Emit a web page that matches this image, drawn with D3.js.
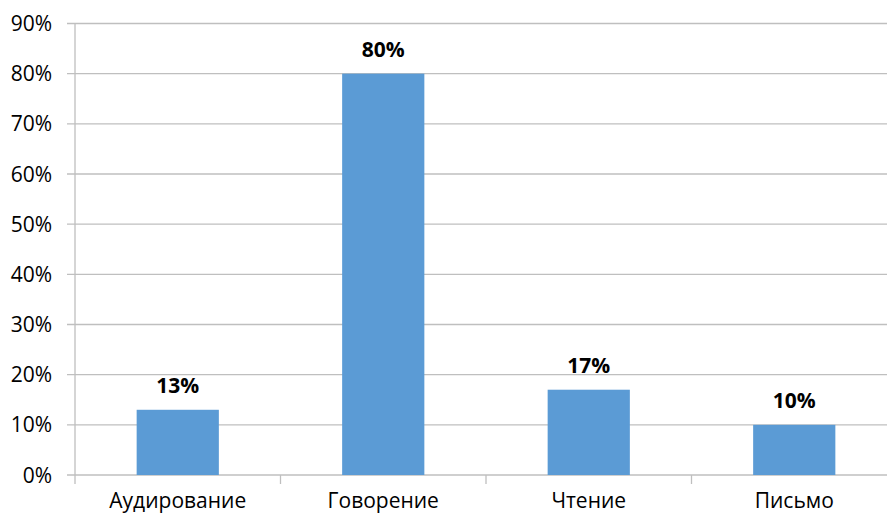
<!DOCTYPE html>
<html><head><meta charset="utf-8">
<script src="https://cdn.jsdelivr.net/npm/d3@7"></script>
<style>body{margin:0;background:#fff;} svg{display:block;}</style>
</head><body>
<svg id="c" width="887" height="515"></svg>
<script>
const categories = ["Аудирование", "Говорение", "Чтение", "Письмо"];
const values = [13, 80, 17, 10];
const yTicks = [0, 10, 20, 30, 40, 50, 60, 70, 80, 90];

(function () {
const svg = d3.select("#c");
const font = "'Open Sans', sans-serif";
const pLeft = 75, pRight = 897, pTop = 23.5, pBottom = 475;

const x = d3.scaleBand().domain(categories).range([pLeft, pRight]).padding(0);
const y = d3.scaleLinear().domain([0, 90]).range([pBottom, pTop]);

// gridlines
svg.append("g").selectAll("line").data(yTicks).join("line")
  .attr("x1", 67).attr("x2", 887)
  .attr("y1", d => y(d)).attr("y2", d => y(d))
  .attr("stroke", "#BFBFBF").attr("stroke-width", 1.3);

// y axis line
svg.append("line").attr("x1", pLeft).attr("x2", pLeft).attr("y1", pTop).attr("y2", pBottom + 9)
  .attr("stroke", "#BFBFBF").attr("stroke-width", 1.3);

// category ticks
svg.append("g").selectAll("line").data(categories.slice(1)).join("line")
  .attr("x1", d => x(d)).attr("x2", d => x(d))
  .attr("y1", pBottom).attr("y2", pBottom + 9)
  .attr("stroke", "#BFBFBF").attr("stroke-width", 1.3);

// y labels
svg.append("g").selectAll("text").data(yTicks).join("text")
  .attr("x", 52).attr("y", d => y(d)).attr("dy", "0.36em")
  .attr("text-anchor", "end").attr("font-family", font).attr("font-size", 21)
  .attr("fill", "#000").text(d => d + "%");

// bars
const bw = x.bandwidth() * 0.4;
svg.append("g").selectAll("rect").data(values).join("rect")
  .attr("x", (d, i) => x(categories[i]) + (x.bandwidth() - bw) / 2)
  .attr("width", bw)
  .attr("y", d => y(d)).attr("height", d => y(0) - y(d))
  .attr("fill", "#5B9BD5");

// value labels
svg.append("g").selectAll("text").data(values).join("text")
  .attr("x", (d, i) => x(categories[i]) + x.bandwidth() / 2)
  .attr("y", d => y(d) - 17)
  .attr("text-anchor", "middle").attr("font-family", font).attr("font-size", 21)
  .attr("font-weight", "bold").attr("fill", "#000").text(d => d + "%");

// category labels
svg.append("g").selectAll("text").data(categories).join("text")
  .attr("x", d => x(d) + x.bandwidth() / 2)
  .attr("y", 508)
  .attr("text-anchor", "middle").attr("font-family", font).attr("font-size", 21)
  .attr("fill", "#000").text(d => d);
})();
</script>
</body></html>
